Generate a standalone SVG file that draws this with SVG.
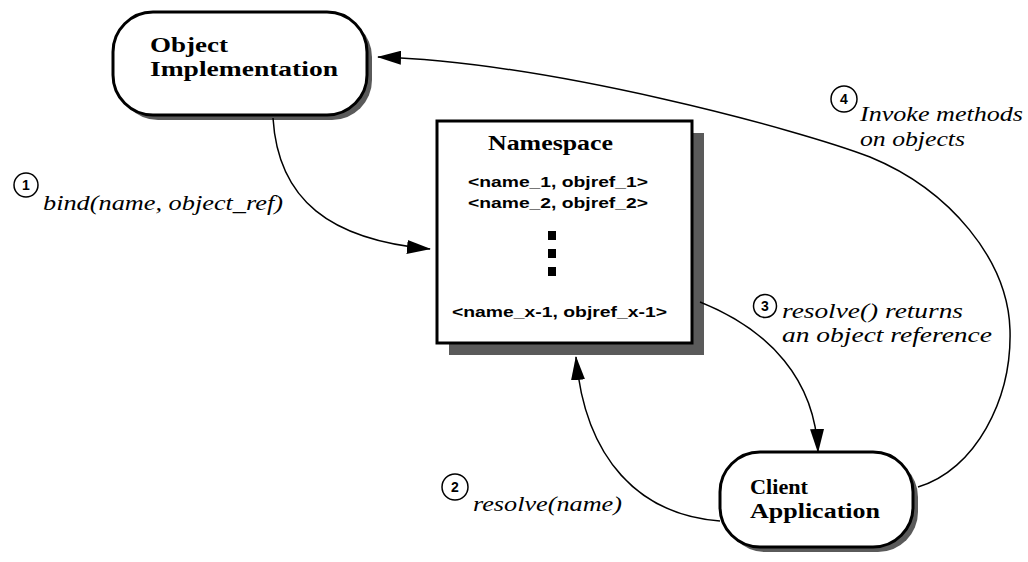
<svg xmlns="http://www.w3.org/2000/svg" width="1028" height="562" viewBox="0 0 1028 562">
<defs>
<style>
.node{fill:#fff;stroke:#000;stroke-width:3}
.shadow{fill:#5a5a5a}
.title{font-family:"Liberation Serif",serif;font-weight:bold;font-size:20px;fill:#000}
.entry{font-family:"Liberation Sans",Arial,sans-serif;font-weight:bold;font-size:14px;fill:#000}
.lbl{font-family:"Liberation Serif",serif;font-style:italic;font-size:21px;fill:#000}
.num{font-family:"Liberation Sans",Arial,sans-serif;font-weight:bold;font-size:14px;fill:#000;text-anchor:middle}
.badge{fill:#fff;stroke:#000;stroke-width:1.5}
.conn{fill:none;stroke:#000;stroke-width:1.5}
</style>
<marker id="arr" viewBox="0 0 24 14" markerWidth="24" markerHeight="14" refX="23" refY="7" orient="auto" markerUnits="userSpaceOnUse">
<path d="M0,0 L24,7 L0,14 z" fill="#000"/>
</marker>
</defs>
<rect width="1028" height="562" fill="#fff"/>

<g id="object-implementation">
<rect class="shadow" x="118" y="17" width="254" height="103" rx="40" ry="40"/>
<rect class="node" x="113" y="12" width="254" height="103" rx="40" ry="40"/>
<text class="title" x="150" y="52" textLength="78" lengthAdjust="spacingAndGlyphs">Object</text>
<text class="title" x="150" y="76" textLength="188" lengthAdjust="spacingAndGlyphs">Implementation</text>
</g>

<g id="namespace">
<rect class="shadow" x="449" y="133" width="255" height="222"/>
<rect class="node" x="437" y="121" width="255" height="222"/>
<text class="title" x="488" y="150" textLength="125" lengthAdjust="spacingAndGlyphs">Namespace</text>
<text class="entry" x="468" y="187" textLength="180" lengthAdjust="spacingAndGlyphs">&lt;name_1, objref_1&gt;</text>
<text class="entry" x="468" y="208" textLength="180" lengthAdjust="spacingAndGlyphs">&lt;name_2, objref_2&gt;</text>
<rect x="548" y="231" width="8" height="9" fill="#000"/>
<rect x="548" y="249" width="8" height="9" fill="#000"/>
<rect x="548" y="267" width="8" height="9" fill="#000"/>
<text class="entry" x="452" y="317" textLength="215" lengthAdjust="spacingAndGlyphs">&lt;name_x-1, objref_x-1&gt;</text>
</g>

<g id="client-application">
<rect class="shadow" x="725" y="457" width="193" height="95" rx="40" ry="40"/>
<rect class="node" x="720" y="452" width="193" height="95" rx="40" ry="40"/>
<text class="title" x="750" y="494" textLength="58" lengthAdjust="spacingAndGlyphs">Client</text>
<text class="title" x="750" y="518" textLength="130" lengthAdjust="spacingAndGlyphs">Application</text>
</g>

<g id="connectors">
<path class="conn" d="M273,118 C278,200 330,240 430,249" marker-end="url(#arr)"/>
<path class="conn" d="M720,521 C640,515 585,460 576,357" marker-end="url(#arr)"/>
<path class="conn" d="M700,302 C770,330 815,380 818,452" marker-end="url(#arr)"/>
<path class="conn" d="M918,487 C975,470 1012,400 1010,330 C1008,260 950,190 870,157 C800,130 550,62 378,57" marker-end="url(#arr)"/>
</g>

<g id="label-1">
<circle class="badge" cx="26" cy="185" r="12"/>
<text class="num" x="26" y="190">1</text>
<text class="lbl" x="43" y="210" textLength="240" lengthAdjust="spacingAndGlyphs">bind(name, object_ref)</text>
</g>
<g id="label-2">
<circle class="badge" cx="455" cy="487" r="13"/>
<text class="num" x="455" y="492">2</text>
<text class="lbl" x="473" y="511" textLength="149" lengthAdjust="spacingAndGlyphs">resolve(name)</text>
</g>
<g id="label-3">
<circle class="badge" cx="765" cy="306" r="11.5"/>
<text class="num" x="765" y="311">3</text>
<text class="lbl" x="782" y="318" textLength="181" lengthAdjust="spacingAndGlyphs">resolve() returns</text>
<text class="lbl" x="782" y="342" textLength="210" lengthAdjust="spacingAndGlyphs">an object reference</text>
</g>
<g id="label-4">
<circle class="badge" cx="844" cy="99" r="13"/>
<text class="num" x="844" y="104">4</text>
<text class="lbl" x="860" y="121" textLength="163" lengthAdjust="spacingAndGlyphs">Invoke methods</text>
<text class="lbl" x="860" y="146" textLength="105" lengthAdjust="spacingAndGlyphs">on objects</text>
</g>
</svg>
